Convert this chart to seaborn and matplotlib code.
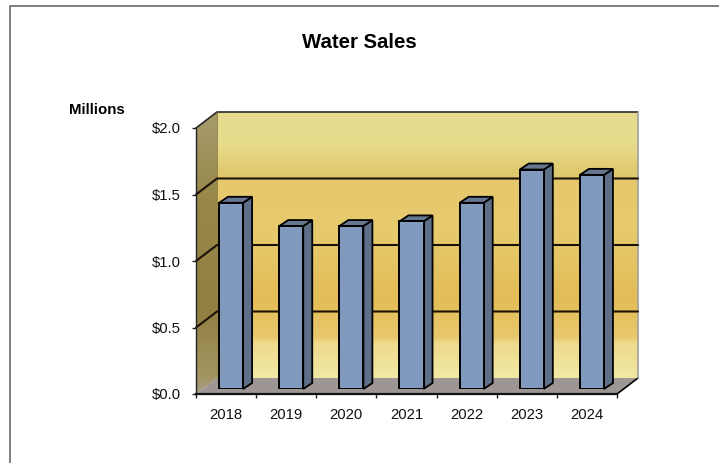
import numpy as np
import pandas as pd
import seaborn as sns
import matplotlib.pyplot as plt
from matplotlib.patches import Polygon
from matplotlib.colors import to_rgb

years = ['2018', '2019', '2020', '2021', '2022', '2023', '2024']
sales = [1.40, 1.225, 1.225, 1.26, 1.40, 1.65, 1.61]
y_ticks = [0.0, 0.5, 1.0, 1.5, 2.0]
y_labels = ['$0.0', '$0.5', '$1.0', '$1.5', '$2.0']

W, H = 719, 463
# front plane of the fake 3d box, in pixels
X0, X1, Y_TOP, Y_BOT = 196, 617, 128, 394
DX, DY = 21, -16      # wall depth
BAR_DX, BAR_DY = 5, -5   # bars stand a bit into the floor
SIDE_DX, SIDE_DY = 9, -6  # bar depth


def axes_at(x0, x1, y_top, y_bot):
    return [x0 / W, 1 - y_bot / H, (x1 - x0) / W, (y_bot - y_top) / H]


def gradient(stops):
    # vertical gradient as an rgb image, stops are (position, colour)
    pos = np.linspace(0, 1, 300)
    rgb = np.array([to_rgb(c) for _, c in stops])
    p = [s[0] for s in stops]
    img = np.stack([np.interp(pos, p, rgb[:, i]) for i in range(3)], axis=1)
    return img[:, None, :]


sns.set_theme(style='white')
plt.rcParams['font.family'] = ['Liberation Sans', 'DejaVu Sans']

fig = plt.figure(figsize=(W / 100, H / 100), dpi=100, facecolor='white')

# scenery in pixel coordinates
bg = fig.add_axes([0, 0, 1, 1], zorder=0)
bg.set_xlim(0, W)
bg.set_ylim(H, 0)
bg.axis('off')

# chart frame, only top and left show
bg.plot([10, 10, W], [H, 5.5, 5.5], color='#6a6a6a', lw=1.2, clip_on=False)

wall_img = gradient([(0, '#e6da8f'), (0.12, '#e8dc8c'), (0.23, '#dfc86c'), (0.26, '#e6c96c'),
                     (0.45, '#e6cb6e'), (0.70, '#e2bc56'), (0.85, '#e9c96e'), (0.87, '#eeda8c'),
                     (1, '#f1e9a4')])
bg.imshow(wall_img, extent=[X0 + DX, X1 + DX, Y_BOT + DY, Y_TOP + DY], aspect='auto', zorder=1)

side_img = gradient([(0, '#a89c6e'), (0.3, '#98884a'), (0.7, '#917f42'), (0.93, '#a29560'), (1, '#a89c88')])
side = bg.imshow(side_img, extent=[X0, X0 + DX, Y_BOT, Y_TOP + DY], aspect='auto', zorder=1)
side_poly = Polygon([(X0, Y_TOP), (X0 + DX, Y_TOP + DY), (X0 + DX, Y_BOT + DY), (X0, Y_BOT)],
                    closed=True, transform=bg.transData, fc='none', ec='none')
bg.add_patch(side_poly)
side.set_clip_path(side_poly)

bg.add_patch(Polygon([(X0, Y_BOT), (X0 + DX, Y_BOT + DY), (X1 + DX, Y_BOT + DY), (X1, Y_BOT)],
                     closed=True, fc='#9e9694', ec='none', zorder=2))
# floor edge on the right and the wall outline
bg.plot([X1, X1 + DX], [Y_BOT, Y_BOT + DY], color='black', lw=1.2, zorder=3)
bg.plot([X0, X0 + DX, X1 + DX], [Y_TOP, Y_TOP + DY, Y_TOP + DY], color='#2a2a2a', lw=1.2, zorder=3)
bg.plot([X0 + DX, X0 + DX], [Y_TOP + DY, Y_BOT + DY], color='#8a7a40', lw=0.6, zorder=3)
bg.plot([X1 + DX, X1 + DX], [Y_TOP + DY, Y_BOT + DY], color='#a0a0a0', lw=1.2, zorder=3)
bg.set_xlim(0, W)
bg.set_ylim(H, 0)

# grid lines run along the side wall and the back wall
px_per_unit = (Y_BOT - Y_TOP) / 2
for v in y_ticks[1:-1]:
    yp = Y_BOT - v * px_per_unit
    bg.plot([X0, X0 + DX, X1 + DX], [yp, yp + DY, yp + DY], color='#1a1208', lw=1.5, zorder=3)

# bars
bar_ax = fig.add_axes(axes_at(X0 + BAR_DX, X1 + BAR_DX, Y_TOP + BAR_DY, Y_BOT + BAR_DY), zorder=2)
df = pd.DataFrame({'year': years, 'sales': sales})
sns.barplot(data=df, x='year', y='sales', order=years, width=0.4, color='#8099bd', saturation=1,
            edgecolor='black', linewidth=1.4, ax=bar_ax)
bar_ax.set_xlim(-0.5, 6.5)
bar_ax.set_ylim(0, 2)
bar_ax.axis('off')

# side and top faces of each bar, taken from the bars seaborn drew
fig.canvas.draw()
to_px = bar_ax.transData + bg.transData.inverted()
for p in bar_ax.patches:
    (xa, yb), (xb, yt) = to_px.transform([(p.get_x(), 0), (p.get_x() + p.get_width(), p.get_height())])
    bg_side = Polygon([(xb, yb), (xb + SIDE_DX, yb + SIDE_DY), (xb + SIDE_DX, yt + SIDE_DY), (xb, yt)],
                      closed=True, fc='#5e6f87', ec='black', lw=1.3, zorder=4)
    bg_top = Polygon([(xa, yt), (xa + SIDE_DX, yt + SIDE_DY), (xb + SIDE_DX, yt + SIDE_DY), (xb, yt)],
                     closed=True, fc='#66778f', ec='black', lw=1.3, zorder=4)
    bg.add_patch(bg_side)
    bg.add_patch(bg_top)

# front axis lines, ticks and labels
ax = fig.add_axes(axes_at(X0, X1, Y_TOP, Y_BOT), zorder=3)
ax.patch.set_alpha(0)
ax.set_xlim(-0.5, 6.5)
ax.set_ylim(0, 2)
sns.despine(ax=ax)
ax.spines['left'].set_color('#222222')
ax.spines['left'].set_linewidth(1.0)
ax.spines['bottom'].set_color('#111111')
ax.spines['bottom'].set_linewidth(1.6)
ax.set_yticks(y_ticks)
ax.set_yticklabels(y_labels, fontsize=10.7, color='#111111')
ax.set_xticks(np.arange(-0.5, 7, 1))
ax.set_xticklabels([])
ax.set_xticks(range(len(years)), labels=years, minor=True, fontsize=10.7, color='#111111')
ax.tick_params(axis='both', which='major', length=3, width=1, color='#222222', left=True, bottom=True)
ax.tick_params(axis='x', which='minor', length=0, bottom=False, pad=10)
ax.tick_params(axis='y', pad=8)

fig.text(359.5 / W, 1 - 43 / H, 'Water Sales', fontsize=14.7, fontweight='bold', ha='center', va='center', color='black')
fig.text(96.5 / W, 1 - 110 / H, 'Millions', fontsize=10.8, fontweight='bold', ha='center', va='center', color='black')

fig.savefig('out.png', dpi=100)
